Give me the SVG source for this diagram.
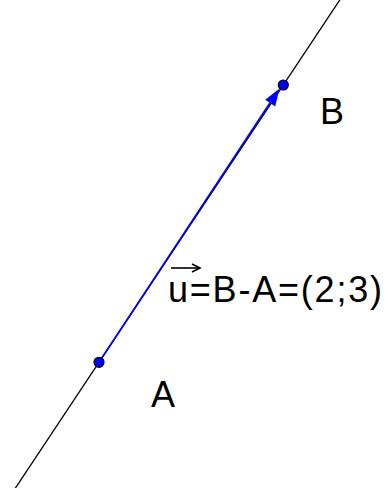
<svg xmlns="http://www.w3.org/2000/svg" width="386" height="488" viewBox="0 0 386 488">
<style>
.lbl{font-family:"Liberation Sans",Arial,sans-serif;font-size:36px;fill:#000}
.pt{fill:#0000ff;stroke:#000;stroke-width:1.2}
</style>
<rect width="386" height="488" fill="#fff"/>
<g id="connectors">
<line id="line" x1="10.8" y1="495" x2="343.1" y2="-5" stroke="#000" stroke-width="1.3"/>
<line id="vector" x1="99" y1="362.3" x2="272" y2="99.8" stroke="#0000ff" stroke-width="1.6"/>
<polygon points="279.5,88.5 275.2,106.4 265.2,99.8" fill="#0000ff"/>
</g>
<g id="A">
<circle class="pt" cx="99" cy="362.3" r="5"/>
<text class="lbl" x="151" y="407">A</text>
</g>
<g id="B">
<circle class="pt" cx="283.3" cy="85" r="5"/>
<text class="lbl" x="320" y="124">B</text>
</g>
<g id="label">
<text class="lbl" x="168" y="302" textLength="214" lengthAdjust="spacing">u=B-A=(2;3)</text>
<line x1="171" y1="268" x2="199" y2="268" stroke="#000" stroke-width="1.6"/>
<polyline points="192,264 200,268 192,272" fill="none" stroke="#000" stroke-width="1.6"/>
</g>
</svg>
